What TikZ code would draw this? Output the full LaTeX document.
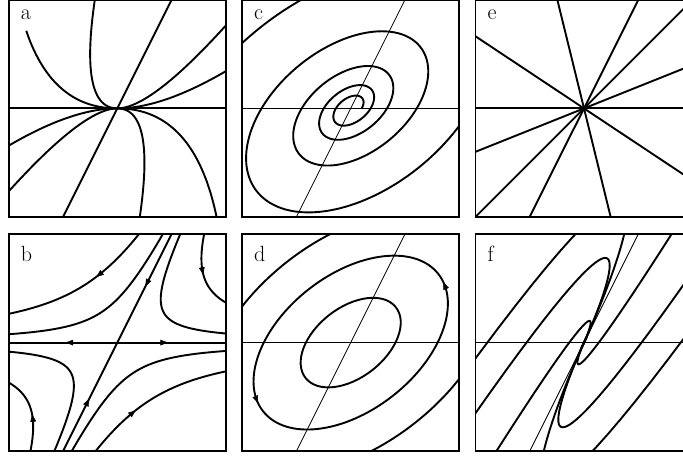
\documentclass[tikz,border=0pt]{standalone}
\usetikzlibrary{arrows.meta}
\newcommand\arrowmark[3]{\path[tipmark] (#1,#2) ++(#3+180:0.035) -- ++(#3:0.07);}
\begin{document}
\begin{tikzpicture}[x=1pt,y=1pt,
  traj/.style={line width=1.9pt},
  thinline/.style={line width=0.8pt},
  frame/.style={line width=1.7pt},
  panellabel/.style={anchor=base west, inner sep=0pt, font=\fontsize{22}{26}\selectfont},
  tipmark/.style={draw, line width=0.5pt, -{Latex[length=8.5pt,width=6pt]}},
]
\useasboundingbox (0,0) rectangle (683,457);

% ---------------- panel a ----------------
\begin{scope}[shift={(117.3pt,348.6pt)}, x=108.6pt, y=108.6pt]
  \begin{scope}
    \clip (-1,-1) rectangle (1,1);
    \draw[traj] (-1,0) -- (1,0);
    \draw[traj] (-0.5,-1) -- (0.5,1);
    \foreach \C in {0.25,1}{
      \draw[traj] plot[domain=0:1.7, samples=70, variable=\t] ({\t+\C*\t*\t},{2*\C*\t*\t});
      \draw[traj] plot[domain=0:1.7, samples=70, variable=\t] ({-\t-\C*\t*\t},{-2*\C*\t*\t});
      \draw[traj] plot[domain=0:1.7, samples=70, variable=\t] ({\t-\C*\t*\t},{-2*\C*\t*\t});
    }
    \draw[traj] plot[domain=0:1.7, samples=70, variable=\t] ({-\t+\t*\t},{2*\t*\t});
    \draw[traj] plot[domain=0:1.196, samples=60, variable=\t] ({-\t+0.25*\t*\t},{0.5*\t*\t});
  \end{scope}
  \draw[frame] (-1,-1) rectangle (1,1);
  \node[panellabel] (la) at (-0.89,0.814) {a};
\end{scope}

% ---------------- panel c ----------------
\begin{scope}[shift={(350.7pt,348.6pt)}, x=108.6pt, y=108.6pt]
  \begin{scope}
    \clip (-1,-1) rectangle (1,1);
    \draw[thinline] (-1,0) -- (1,0);
    \draw[thinline] (-0.5,-1) -- (0.5,1);
    \draw[traj] plot[domain=-412:1300, samples=700, variable=\p]
      ({0.953*exp(0.0016633*(\p-937.97))*(1.0094*cos(\p)-0.4809*sin(\p))},
       {0.953*exp(0.0016633*(\p-937.97))*(0.7887*cos(\p)+0.6154*sin(\p))});
  \end{scope}
  \draw[frame] (-1,-1) rectangle (1,1);
  \node[panellabel] (lc) at (-0.89,0.814) {c};
\end{scope}

% ---------------- panel e ----------------
\begin{scope}[shift={(584pt,348.6pt)}, x=108.6pt, y=108.6pt]
  \begin{scope}
    \clip (-1,-1) rectangle (1,1);
    \foreach \ang in {0,21.8,45,63.4,103.8,146.4}{
      \draw[traj] (\ang:2) -- (\ang+180:2);
    }
  \end{scope}
  \draw[frame] (-1,-1) rectangle (1,1);
  \node[panellabel] (le) at (-0.89,0.814) {e};
\end{scope}

% ---------------- panel b ----------------
\begin{scope}[shift={(117.3pt,114.4pt)}, x=108.6pt, y=108.6pt]
  \begin{scope}
    \clip (-1,-1) rectangle (1,1);
    \draw[traj] (-1,0) -- (1,0);
    \draw[traj] (-0.5,-1) -- (0.5,1);
    \foreach \sa in {-1,1}{
      \foreach \sb in {-1,1}{
        \foreach \k in {0.04,0.15}{
          \draw[traj] plot[domain=-4.2:-0.35, samples=90, variable=\u]
            ({\sa*\k/exp(\u)+\sb*exp(\u)},{2*\sb*exp(\u)});
        }
      }
    }
  \end{scope}
  \arrowmark{-0.174}{0.62}{218}
  \arrowmark{0.7865}{0.65}{282}
  \arrowmark{0.149}{-0.64}{39}
  \arrowmark{-0.780}{-0.686}{97.8}
  \arrowmark{-0.45}{0}{180}
  \arrowmark{0.44}{0}{0}
  \arrowmark{0.27}{0.54}{243.4}
  \arrowmark{-0.27}{-0.54}{63.4}
  \draw[frame] (-1,-1) rectangle (1,1);
  \node[panellabel] (lb) at (-0.89,0.747) {b};
\end{scope}

% ---------------- panel d ----------------
\begin{scope}[shift={(350.7pt,114.4pt)}, x=108.6pt, y=108.6pt]
  \begin{scope}
    \clip (-1,-1) rectangle (1,1);
    \draw[thinline] (-1,0) -- (1,0);
    \draw[thinline] (-0.5,-1) -- (0.5,1);
    \draw[traj, rotate=38] (0,0) ellipse [x radius=0.528, y radius=0.322];
    \draw[traj, rotate=38] (0,0) ellipse [x radius=1.025, y radius=0.625];
    \draw[traj, rotate=38] (0,0) ellipse [x radius=1.553, y radius=0.947];
  \end{scope}
  \arrowmark{0.863}{0.534}{111.5}
  \arrowmark{-0.863}{-0.534}{291.5}
  \draw[frame] (-1,-1) rectangle (1,1);
  \node[panellabel] (ld) at (-0.89,0.747) {d};
\end{scope}

% ---------------- panel f ----------------
\begin{scope}[shift={(584pt,114.4pt)}, x=108.6pt, y=108.6pt]
  \begin{scope}
    \clip (-1,-1) rectangle (1,1);
    \draw[thinline] (-1,0) -- (1,0);
    \draw[thinline] (-0.5,-1) -- (0.5,1);
    \foreach \c in {-0.5775,-0.058,1.303}{
      \draw[traj] plot[domain=-9:1.2, samples=140, variable=\u]
        ({-0.5*exp(\u)-exp(\u)*(\c+\u)},{-2*exp(\u)*(\c+\u)});
      \draw[traj] plot[domain=-9:1.2, samples=140, variable=\u]
        ({0.5*exp(\u)+exp(\u)*(\c+\u)},{2*exp(\u)*(\c+\u)});
    }
  \end{scope}
  \draw[frame] (-1,-1) rectangle (1,1);
  \node[panellabel] (lf) at (-0.89,0.747) {f};
\end{scope}
\end{tikzpicture}
\end{document}
